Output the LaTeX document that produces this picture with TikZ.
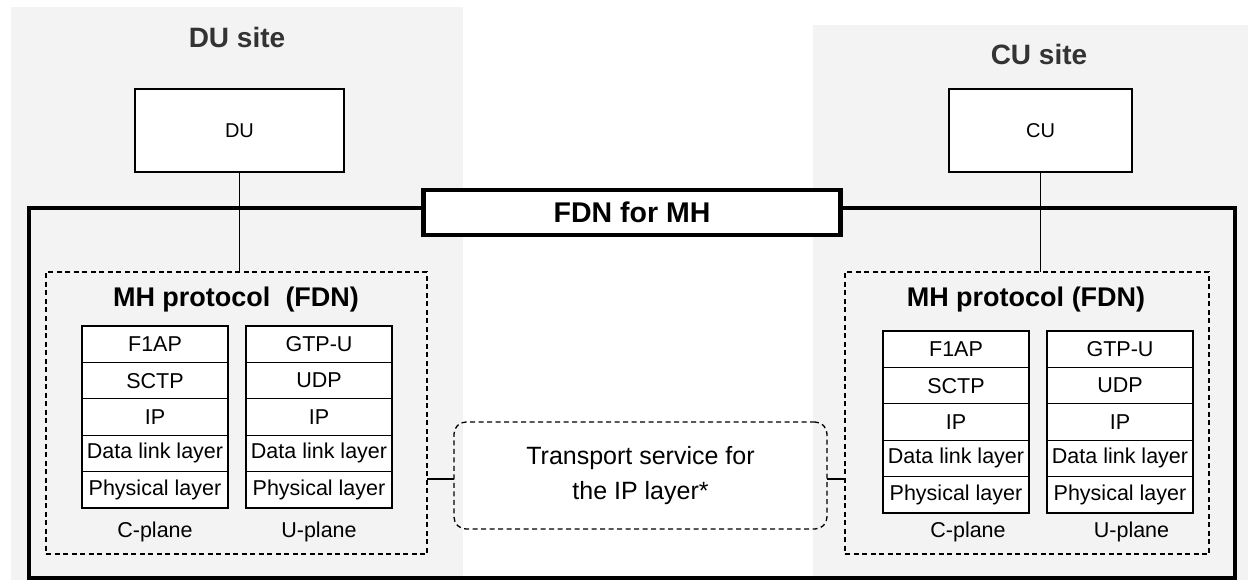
\documentclass[tikz,border=0pt]{standalone}
\usepackage{fontspec}
\setmainfont{Liberation Sans}
\definecolor{sitebg}{HTML}{F3F3F3}
\definecolor{titlegrey}{HTML}{333333}
\tikzset{
  sitebox/.style={fill=sitebg, draw=none, inner sep=0, outer sep=0},
  sitetitle/.style={font=\fontsize{28}{32}\selectfont\bfseries, text=titlegrey, inner sep=0},
  unitbox/.style={draw=black, line width=1.3pt, fill=white, minimum width=209pt, minimum height=83pt, inner sep=0, outer sep=0, font=\fontsize{20}{24}\selectfont},
  thickbox/.style={draw=black, line width=4.5pt, inner sep=0, outer sep=0},
  dashbox/.style={draw=black, line width=1.3pt, dash pattern=on 5pt off 3.5pt, inner sep=0, outer sep=0},
  cell/.style={draw=black, line width=1.3pt, fill=white, minimum width=146pt, minimum height=36.4pt, inner sep=0, outer sep=0, font=\fontsize{21.5}{25}\selectfont},
  mhtitle/.style={font=\fontsize{27}{31}\selectfont\bfseries, inner sep=0},
  planelabel/.style={font=\fontsize{21.5}{25}\selectfont, inner sep=0},
  conn/.style={draw=black, line width=1.3pt},
}
\begin{document}
\begin{tikzpicture}[x=1pt, y=-1pt]
\useasboundingbox (0,0) rectangle (1248,580);
\fill[white] (0,0) rectangle (1248,580);
% site backgrounds
\node[sitebox, minimum width=452pt, minimum height=573pt] (dusite) at (237,293.5) {};
\node[sitebox, minimum width=435pt, minimum height=555pt] (cusite) at (1030.5,302.5) {};
\node[sitetitle] (dutitle) at (237,37) {DU site};
\node[sitetitle] (cutitle) at (1039,54) {CU site};
% FDN outer frame
\node[thickbox, minimum width=1206pt, minimum height=370pt] (fdn) at (632,393) {};
% units
\node[unitbox] (du) at (239.5,130.5) {DU};
\node[unitbox, minimum width=183pt] (cu) at (1040.5,130.5) {CU};
% MH protocol boxes
\node[dashbox, minimum width=381pt, minimum height=282pt] (mhL) at (236.5,413) {};
\node[dashbox, minimum width=364pt, minimum height=282pt] (mhR) at (1027,413) {};
\node[mhtitle] (mhLt) at (236,300) {MH protocol\ \ (FDN)};
\node[mhtitle] (mhRt) at (1026,300) {MH protocol (FDN)};
% connectors unit -> protocol box
\draw[conn] (du.south) -- (du.south |- mhL.north);
\draw[conn] (cu.south) -- (cu.south |- mhR.north);
% FDN label box
\node[thickbox, fill=white, minimum width=417pt, minimum height=45pt, font=\fontsize{28.5}{32}\selectfont\bfseries] (fdnlabel) at (632,212.5) {FDN for MH};
% left stacks
\node[cell] (lc1) at (155,344.2) {F1AP};
\node[cell] (lc2) at (155,380.6) {SCTP};
\node[cell] (lc3) at (155,417.0) {IP};
\node[cell] (lc4) at (155,453.4) {Data link layer};
\node[cell] (lc5) at (155,489.8) {Physical layer};
\node[cell] (lu1) at (319,344.2) {GTP-U};
\node[cell] (lu2) at (319,380.6) {UDP};
\node[cell] (lu3) at (319,417.0) {IP};
\node[cell] (lu4) at (319,453.4) {Data link layer};
\node[cell] (lu5) at (319,489.8) {Physical layer};
\node[planelabel] (lcp) at (155,532) {C-plane};
\node[planelabel] (lup) at (319,532) {U-plane};
% right stacks
\node[cell] (rc1) at (956,349.2) {F1AP};
\node[cell] (rc2) at (956,385.6) {SCTP};
\node[cell] (rc3) at (956,422.0) {IP};
\node[cell] (rc4) at (956,458.4) {Data link layer};
\node[cell] (rc5) at (956,494.8) {Physical layer};
\node[cell] (ru1) at (1120,349.2) {GTP-U};
\node[cell] (ru2) at (1120,385.6) {UDP};
\node[cell] (ru3) at (1120,422.0) {IP};
\node[cell] (ru4) at (1120,458.4) {Data link layer};
\node[cell] (ru5) at (1120,494.8) {Physical layer};
\node[planelabel] (rcp) at (968,532) {C-plane};
\node[planelabel] (rup) at (1131.5,532) {U-plane};
% transport service
\node[dashbox, rounded corners=12pt, minimum width=373pt, minimum height=107pt, align=center, font=\fontsize{25}{35}\selectfont] (tr) at (640.5,475.5) {Transport service for\\the IP layer*};
\coordinate (trL) at ([yshift=-3.5pt]tr.west);
\coordinate (trR) at ([yshift=-3.5pt]tr.east);
\draw[conn] (mhL.east |- trL) -- (trL);
\draw[conn] (trR) -- (mhR.west |- trR);
\end{tikzpicture}
\end{document}
